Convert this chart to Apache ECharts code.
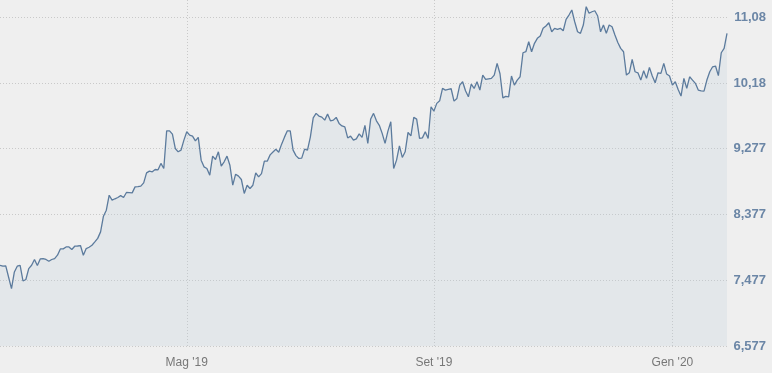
<!DOCTYPE html>
<html>
<head>
<meta charset="utf-8">
<script src="https://cdn.jsdelivr.net/npm/echarts@6/dist/echarts.min.js"></script>
<style>
html,body{margin:0;padding:0;background:#efefef;}
#chart{width:772px;height:373px;}
</style>
</head>
<body>
<div id="chart"></div>
<script>
// Trading days (Borsa Italiana calendar), 2019-01-28 .. 2020-01-29
const dates = [
'2019-01-28','2019-01-29','2019-01-30','2019-01-31',
'2019-02-01','2019-02-04','2019-02-05','2019-02-06','2019-02-07','2019-02-08','2019-02-11','2019-02-12','2019-02-13','2019-02-14','2019-02-15','2019-02-18','2019-02-19','2019-02-20','2019-02-21','2019-02-22','2019-02-25','2019-02-26','2019-02-27','2019-02-28',
'2019-03-01','2019-03-04','2019-03-05','2019-03-06','2019-03-07','2019-03-08','2019-03-11','2019-03-12','2019-03-13','2019-03-14','2019-03-15','2019-03-18','2019-03-19','2019-03-20','2019-03-21','2019-03-22','2019-03-25','2019-03-26','2019-03-27','2019-03-28','2019-03-29',
'2019-04-01','2019-04-02','2019-04-03','2019-04-04','2019-04-05','2019-04-08','2019-04-09','2019-04-10','2019-04-11','2019-04-12','2019-04-15','2019-04-16','2019-04-17','2019-04-18','2019-04-23','2019-04-24','2019-04-25','2019-04-26','2019-04-29','2019-04-30',
'2019-05-02','2019-05-03','2019-05-06','2019-05-07','2019-05-08','2019-05-09','2019-05-10','2019-05-13','2019-05-14','2019-05-15','2019-05-16','2019-05-17','2019-05-20','2019-05-21','2019-05-22','2019-05-23','2019-05-24','2019-05-27','2019-05-28','2019-05-29','2019-05-30','2019-05-31',
'2019-06-03','2019-06-04','2019-06-05','2019-06-06','2019-06-07','2019-06-10','2019-06-11','2019-06-12','2019-06-13','2019-06-14','2019-06-17','2019-06-18','2019-06-19','2019-06-20','2019-06-21','2019-06-24','2019-06-25','2019-06-26','2019-06-27','2019-06-28',
'2019-07-01','2019-07-02','2019-07-03','2019-07-04','2019-07-05','2019-07-08','2019-07-09','2019-07-10','2019-07-11','2019-07-12','2019-07-15','2019-07-16','2019-07-17','2019-07-18','2019-07-19','2019-07-22','2019-07-23','2019-07-24','2019-07-25','2019-07-26','2019-07-29','2019-07-30','2019-07-31',
'2019-08-01','2019-08-02','2019-08-05','2019-08-06','2019-08-07','2019-08-08','2019-08-09','2019-08-12','2019-08-13','2019-08-14','2019-08-16','2019-08-19','2019-08-20','2019-08-21','2019-08-22','2019-08-23','2019-08-26','2019-08-27','2019-08-28','2019-08-29','2019-08-30',
'2019-09-02','2019-09-03','2019-09-04','2019-09-05','2019-09-06','2019-09-09','2019-09-10','2019-09-11','2019-09-12','2019-09-13','2019-09-16','2019-09-17','2019-09-18','2019-09-19','2019-09-20','2019-09-23','2019-09-24','2019-09-25','2019-09-26','2019-09-27','2019-09-30',
'2019-10-01','2019-10-02','2019-10-03','2019-10-04','2019-10-07','2019-10-08','2019-10-09','2019-10-10','2019-10-11','2019-10-14','2019-10-15','2019-10-16','2019-10-17','2019-10-18','2019-10-21','2019-10-22','2019-10-23','2019-10-24','2019-10-25','2019-10-28','2019-10-29','2019-10-30','2019-10-31',
'2019-11-01','2019-11-04','2019-11-05','2019-11-06','2019-11-07','2019-11-08','2019-11-11','2019-11-12','2019-11-13','2019-11-14','2019-11-15','2019-11-18','2019-11-19','2019-11-20','2019-11-21','2019-11-22','2019-11-25','2019-11-26','2019-11-27','2019-11-28','2019-11-29',
'2019-12-02','2019-12-03','2019-12-04','2019-12-05','2019-12-06','2019-12-09','2019-12-10','2019-12-11','2019-12-12','2019-12-13','2019-12-16','2019-12-17','2019-12-18','2019-12-19','2019-12-20','2019-12-23','2019-12-27','2019-12-30',
'2020-01-02','2020-01-03','2020-01-06','2020-01-07','2020-01-08','2020-01-09','2020-01-10','2020-01-13','2020-01-14','2020-01-15','2020-01-16','2020-01-17','2020-01-20','2020-01-21','2020-01-22','2020-01-23','2020-01-24','2020-01-27','2020-01-28','2020-01-29'
];

const navValues = [
7.682,7.669,7.673,7.518,
7.363,7.591,7.669,7.682,7.467,7.487,7.637,7.682,7.761,7.678,7.769,7.774,7.762,7.737,7.761,7.774,7.820,7.906,7.906,7.933,
7.933,7.898,7.943,7.946,7.952,7.820,7.911,7.929,7.956,8.002,8.050,8.139,8.354,8.436,8.641,8.573,8.592,8.610,8.635,8.610,8.678,
8.676,8.673,8.755,8.759,8.765,8.810,8.947,8.970,8.961,8.993,8.988,9.076,9.007,9.522,9.522,9.477,9.281,9.235,9.258,9.395,
9.509,9.463,9.450,9.385,9.432,9.121,9.029,9.007,8.915,9.176,9.130,9.235,9.039,9.098,9.176,9.052,8.778,8.929,8.902,8.856,8.665,8.778,
8.733,8.778,8.947,8.892,8.936,9.107,9.107,9.193,9.233,9.269,9.230,9.340,9.436,9.522,9.522,9.258,9.183,9.144,9.148,9.272,
9.258,9.437,9.699,9.761,9.724,9.710,9.669,9.751,9.659,9.669,9.706,9.624,9.589,9.577,9.425,9.450,9.395,9.413,9.481,9.432,9.596,9.350,9.685,
9.761,9.659,9.598,9.487,9.350,9.518,9.646,9.007,9.121,9.317,9.158,9.235,9.500,9.454,9.706,9.683,9.418,9.426,9.509,9.418,9.851,
9.792,9.898,9.933,10.103,10.080,10.091,10.098,9.929,9.966,10.148,10.194,10.070,9.988,10.162,10.103,10.194,10.080,10.285,10.226,10.233,10.240,
10.285,10.446,10.303,9.974,9.994,9.988,10.272,10.148,10.217,10.262,10.591,10.605,10.742,10.605,10.720,10.788,10.820,10.925,10.957,11.002,10.878,10.925,10.911,
10.925,10.892,11.048,11.107,11.176,11.015,10.878,10.857,10.970,11.221,11.131,11.152,11.166,11.094,10.878,10.970,10.857,10.970,10.947,10.833,10.732,
10.651,10.605,10.285,10.317,10.500,10.331,10.317,10.217,10.344,10.240,10.391,10.272,10.180,10.317,10.309,10.446,10.299,10.272,
10.148,10.194,10.089,9.998,10.240,10.103,10.262,10.217,10.172,10.080,10.070,10.066,10.217,10.331,10.399,10.409,10.278,10.591,10.651,10.857
];

const yTicks = [6.577, 7.477, 8.377, 9.277, 10.177, 11.077];
const yMin = 6.577;
const yMax = 11.313;

const xTickDates = ['2019-05-02', '2019-09-02', '2020-01-02'];
const xTickLabels = ["Mag '19", "Set '19", "Gen '20"];

const chart = echarts.init(document.getElementById('chart'), null, {renderer: 'canvas'});
const isXTick = (idx, val) => xTickDates.indexOf(val) >= 0;

chart.setOption({
  backgroundColor: '#efefef',
  animation: false,
  grid: {left: 0, right: 45, top: 0, bottom: 27, containLabel: false},
  xAxis: {
    type: 'category',
    data: dates,
    boundaryGap: false,
    axisLine: {show: false},
    axisTick: {show: false},
    axisLabel: {
      interval: isXTick,
      formatter: (val) => {
        const k = xTickDates.indexOf(val);
        return k >= 0 ? xTickLabels[k] : '';
      },
      color: '#777777',
      fontFamily: 'Liberation Sans, Arial, sans-serif',
      fontSize: 12,
      margin: 11
    },
    splitLine: {
      show: true,
      interval: isXTick,
      lineStyle: {color: '#c9c9c9', type: [1, 2], width: 1}
    }
  },
  yAxis: {
    type: 'value',
    position: 'right',
    min: yMin,
    max: yMax,
    axisLine: {show: false},
    axisTick: {show: false, customValues: yTicks},
    axisLabel: {
      customValues: yTicks,
      formatter: (v) => Number(v).toPrecision(4).replace('.', ','),
      color: '#6b86a6',
      fontWeight: 'bold',
      fontFamily: 'Liberation Sans, Arial, sans-serif',
      fontSize: 13,
      align: 'right',
      margin: 39
    },
    splitLine: {
      show: true,
      lineStyle: {color: '#c9c9c9', type: [1, 2], width: 1}
    }
  },
  series: [{
    type: 'line',
    data: navValues,
    symbol: 'none',
    smooth: false,
    lineStyle: {color: '#5c7b9d', width: 1.3},
    areaStyle: {color: 'rgba(190,204,218,0.32)', origin: 'start'},
    silent: true
  }]
});
</script>
</body>
</html>
